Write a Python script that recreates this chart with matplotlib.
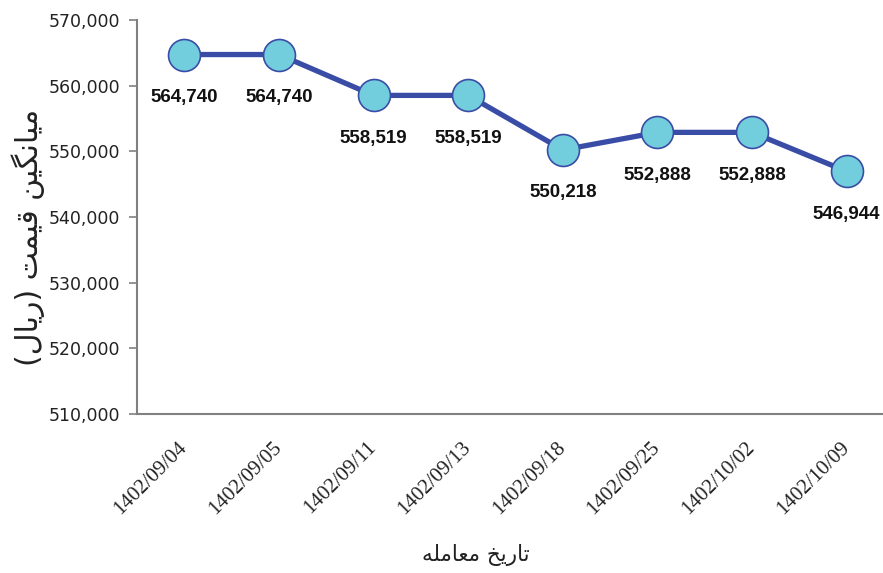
import matplotlib
matplotlib.use("Agg")
import matplotlib.pyplot as plt
from matplotlib.ticker import FuncFormatter
from matplotlib.font_manager import FontProperties

dates = ["1402/09/04", "1402/09/05", "1402/09/11", "1402/09/13",
         "1402/09/18", "1402/09/25", "1402/10/02", "1402/10/09"]
prices = [564740, 564740, 558519, 558519, 550218, 552888, 552888, 546944]
y_label_text = "میانگین قیمت (ریال)"
x_label_text = "تاریخ معامله"

# --- minimal Arabic/Persian shaping (presentation forms) ---
FORMS = {
    "\u0645": ("\uFEE1", "\uFEE2", "\uFEE3", "\uFEE4"),  # meem
    "\u06CC": ("\uFBFC", "\uFBFD", "\uFBFE", "\uFBFF"),  # farsi yeh
    "\u0627": ("\uFE8D", "\uFE8E", None, None),          # alef
    "\u0646": ("\uFEE5", "\uFEE6", "\uFEE7", "\uFEE8"),  # noon
    "\u06AF": ("\uFB92", "\uFB93", "\uFB94", "\uFB95"),  # gaf
    "\u0642": ("\uFED5", "\uFED6", "\uFED7", "\uFED8"),  # qaf
    "\u062A": ("\uFE95", "\uFE96", "\uFE97", "\uFE98"),  # teh
    "\u0631": ("\uFEAD", "\uFEAE", None, None),          # reh
    "\u0644": ("\uFEDD", "\uFEDE", "\uFEDF", "\uFEE0"),  # lam
    "\u0639": ("\uFEC9", "\uFECA", "\uFECB", "\uFECC"),  # ain
    "\u0647": ("\uFEE9", "\uFEEA", "\uFEEB", "\uFEEC"),  # heh
    "\u062E": ("\uFEA5", "\uFEA6", "\uFEA7", "\uFEA8"),  # khah
}


def shape(text):
    out = []
    n = len(text)
    for i, c in enumerate(text):
        if c not in FORMS:
            out.append(c)
            continue
        f = FORMS[c]
        prev = text[i - 1] if i > 0 else None
        nxt = text[i + 1] if i < n - 1 else None
        jp = prev in FORMS and FORMS[prev][2] is not None
        jn = f[2] is not None and nxt in FORMS
        if jp and jn:
            out.append(f[3])
        elif jp:
            out.append(f[1])
        elif jn:
            out.append(f[2])
        else:
            out.append(f[0])
    vis = "".join(reversed(out))
    return vis.translate(str.maketrans("()", ")("))


line_color = "#3A4DA6"
face_color = "#72CEDC"
axis_color = "#808080"

fig = plt.figure(figsize=(8.83, 5.73), dpi=100)
ax = fig.add_axes([137 / 883, 159 / 573, 757 / 883, 394 / 573])

x = list(range(len(dates)))
ax.plot(x, prices, color=line_color, lw=3.8, marker="o", markersize=23,
        markerfacecolor=face_color, markeredgecolor=line_color,
        markeredgewidth=1.2, zorder=3, clip_on=False)

for xi, v in zip(x, prices):
    ax.annotate(f"{v:,}", (xi, v), xytext=(0, -31), textcoords="offset points",
                ha="center", va="center", fontsize=13.5, fontweight="bold",
                family="Liberation Sans", color="#111111")

ax.set_xlim(-0.5, 7.5)
ax.set_ylim(510000, 570000)
ax.set_yticks(range(510000, 570001, 10000))
ax.yaxis.set_major_formatter(FuncFormatter(lambda v, p: f"{int(v):,}"))
ax.set_xticks(x)
ax.set_xticklabels(dates)

for s in ("top", "right"):
    ax.spines[s].set_visible(False)
for s in ("left", "bottom"):
    ax.spines[s].set_color(axis_color)
    ax.spines[s].set_linewidth(1.5)

ax.tick_params(axis="y", length=6, width=1.2, color=axis_color,
               labelsize=12.5, labelcolor="#222222", pad=6)
ax.tick_params(axis="x", length=0, pad=22, labelcolor="#222222")

serif_fp = FontProperties(family=["Liberation Serif", "DejaVu Serif"], size=15)
for lbl in ax.get_xticklabels():
    lbl.set_fontproperties(serif_fp)
    lbl.set_rotation(45)
    lbl.set_ha("right")
    lbl.set_va("center")
    lbl.set_rotation_mode("anchor")

fig.text(476 / 883, 1 - 555 / 573, shape(x_label_text), ha="center",
         va="center", fontsize=15.5, family="DejaVu Sans", color="#222222")
fig.text(28 / 883, 1 - 237 / 573, shape(y_label_text), ha="center",
         va="center", rotation=90, fontsize=21.5, family="DejaVu Sans",
         color="#222222")

fig.savefig("out.png", dpi=100)
